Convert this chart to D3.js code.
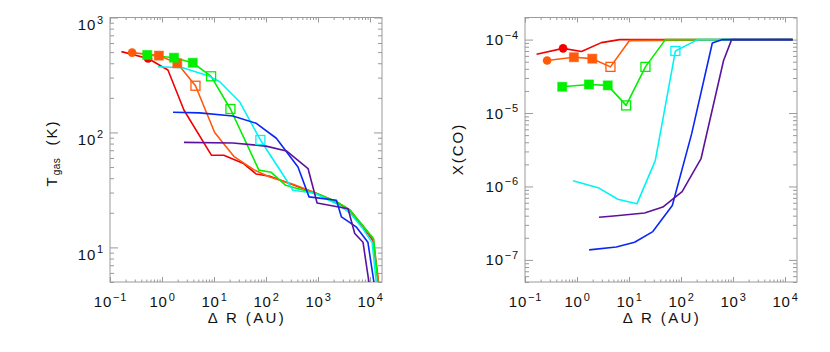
<!DOCTYPE html>
<html lang="en">
<head>
    <meta charset="UTF-8">
    <title>Tgas and X(CO) vs Delta R</title>
    <script src="https://d3js.org/d3.v7.min.js"></script>
    <style>
        body { margin: 0; background-color: white; }
        svg text { font-family: "Liberation Sans", Arial, sans-serif; fill: #111; }
    </style>
</head>
<body>
    <svg id="chart"></svg>

    <script>
        const width = 830;
        const height = 352;

        // decade ticks (value, exponent label)
        const xTicks = [0.1, 1, 10, 100, 1000, 10000];
        const xTickExp = ["\u22121", "0", "1", "2", "3", "4"];
        const tgasTicks = [10, 100, 1000];
        const tgasTickExp = ["1", "2", "3"];
        const xcoTicks = [1e-7, 1e-6, 1e-5, 1e-4];
        const xcoTickExp = ["\u22127", "\u22126", "\u22125", "\u22124"];

        const seriesNames = ["red", "orange", "green", "cyan", "blue", "purple"];

        // left panel: [Delta R (AU), Tgas (K)]
        const tgasRed = [[0.166, 505], [0.54, 440], [1.3, 349], [2.65, 156], [8.9, 63.4], [15.4, 63.4], [36, 54], [65, 43.5],
            [118, 41.6], [330, 35], [930, 29.4], [2260, 24.8], [4070, 21], [7330, 15], [11430, 11.5], [14900, 4.5]];
        const tgasOrange = [[0.266, 495], [0.87, 466], [1.97, 400], [4.4, 255], [10.3, 100], [24, 62], [58, 47.5], [118, 41],
            [330, 35.5], [930, 29.6], [2260, 25], [4070, 21.3], [7330, 15.3], [11600, 11.8], [15000, 4.5]];
        const tgasGreen = [[0.52, 472], [1.7, 447], [3.9, 404], [8.8, 308], [20.7, 160], [73, 47], [126, 45], [239, 34.7],
            [600, 31], [930, 29.5], [2260, 25], [4070, 21.2], [7330, 15.4], [11700, 11.9], [14400, 4.5]];
        const tgasCyan = [[0.84, 373], [2.5, 366], [7.7, 312], [12.9, 276], [31, 185], [78, 86], [170, 50], [331, 31.4],
            [690, 30], [930, 29], [2260, 24], [4070, 20], [7330, 14.5], [11000, 11], [13500, 4.5]];
        const tgasBlue = [[1.63, 150], [5.3, 148], [23, 139], [65, 120], [158, 89], [412, 50], [671, 27.5], [2260, 25.7],
            [2820, 18.4], [5500, 15], [9100, 11.1], [12300, 4.5]];
        const tgasPurple = [[2.65, 82], [23, 81], [65, 77.5], [100, 76], [247, 69], [643, 48.5], [960, 24.3], [3780, 21.7],
            [5080, 13.2], [7330, 11.1], [9860, 4.5]];

        // right panel: [Delta R (AU), X(CO)]
        const xcoRed = [[0.167, 6.3e-5], [0.54, 7.6e-5], [1.22, 6.9e-5], [2.94, 9.1e-5], [6.6, 1e-4], [14000, 1e-4]];
        const xcoOrange = [[0.266, 5.2e-5], [0.87, 5.75e-5], [1.97, 5.5e-5], [4.4, 4.25e-5], [10.2, 9.7e-5], [14000, 1e-4]];
        const xcoGreen = [[0.52, 2.28e-5], [1.7, 2.45e-5], [3.9, 2.38e-5], [8.8, 1.27e-5], [20.7, 4.25e-5], [50, 1e-4], [14000, 1e-4]];
        const xcoCyan = [[0.84, 1.2e-6], [2.65, 9.5e-7], [6.1, 6.7e-7], [14.2, 5.8e-7], [32, 2.25e-6], [78, 7e-5], [209, 1e-4], [14000, 1e-4]];
        const xcoBlue = [[1.71, 1.37e-7], [5.7, 1.5e-7], [12.8, 1.74e-7], [28.7, 2.43e-7], [68, 5.5e-7], [160, 5.2e-6],
            [400, 9e-5], [630, 1e-4], [14000, 1e-4]];
        const xcoPurple = [[2.65, 3.8e-7], [5.7, 4e-7], [19.9, 4.35e-7], [44.7, 5.25e-7], [105, 8.5e-7], [243, 2.4e-6],
            [658, 5.2e-5], [940, 1e-4], [14000, 1e-4]];

        // markers: [series, Delta R, Tgas, X(CO)]
        const circlePts = [["red", 0.54, 440, 7.6e-5], ["orange", 0.266, 495, 5.2e-5]];
        const filledSquarePts = [["orange", 0.87, 466, 5.75e-5], ["orange", 1.97, 400, 5.5e-5],
            ["green", 0.52, 472, 2.28e-5], ["green", 1.7, 447, 2.45e-5], ["green", 3.9, 404, 2.38e-5]];
        const openSquarePts = [["orange", 4.4, 255, 4.25e-5], ["green", 8.8, 308, 1.27e-5],
            ["green", 20.7, 160, 4.25e-5], ["cyan", 78, 86, 7e-5]];

        const colors = {
            red: "#f20000", orange: "#ff5a0a", green: "#00f000",
            cyan: "#00f4f4", blue: "#0a28f5", purple: "#5c129e"
        };

        const svg = d3.select("#chart")
            .attr("width", width)
            .attr("height", height);

        const plotTop = 17.5, plotBottom = 282;

        function minorTicks(lo, hi) {
            const out = [];
            for (let e = Math.floor(Math.log10(lo)); e <= Math.ceil(Math.log10(hi)); e++) {
                for (let k = 2; k <= 9; k++) {
                    const v = k * Math.pow(10, e);
                    if (v >= lo && v <= hi) out.push(v);
                }
            }
            return out;
        }

        function powLabel(sel, exp) {
            sel.append("tspan").text("10");
            sel.append("tspan").attr("font-size", 11).attr("dx", 1).attr("dy", -6.5).text(exp);
        }

        function drawPanel(p) {
            const x = d3.scaleLog().domain([0.1, 1.7e4]).range([p.left, p.left + 272]);
            const y = d3.scaleLog().domain(p.yDomain).range([plotBottom, plotTop]);
            const g = svg.append("g");

            const clipId = "clip-" + p.id;
            svg.append("clipPath").attr("id", clipId)
                .append("rect").attr("x", x.range()[0]).attr("y", plotTop)
                .attr("width", 272).attr("height", plotBottom - plotTop);

            const xMinor = minorTicks(0.1, 1.7e4);
            const yMinor = minorTicks(p.yDomain[0], p.yDomain[1]);

            const axes = [
                [d3.axisBottom(x), `translate(0,${plotBottom})`, xTicks, xMinor, 5, 2.5],
                [d3.axisTop(x), `translate(0,${plotTop})`, xTicks, xMinor, 5, 2.5],
                [d3.axisLeft(y), `translate(${p.left},0)`, p.yTicks, yMinor, 8, 4],
                [d3.axisRight(y), `translate(${p.left + 272},0)`, p.yTicks, yMinor, 8, 4]
            ];
            axes.forEach(([ax, tr, major, minor, big, small]) => {
                [[major, big], [minor, small]].forEach(([vals, len]) => {
                    const a = g.append("g").attr("transform", tr)
                        .call(ax.tickValues(vals).tickSize(-len).tickSizeOuter(0).tickFormat(""));
                    a.select(".domain").remove();
                    a.selectAll("line").attr("stroke", "#9a9a9a");
                });
            });

            g.append("rect")
                .attr("x", x.range()[0]).attr("y", plotTop)
                .attr("width", 272).attr("height", plotBottom - plotTop)
                .attr("fill", "none").attr("stroke", "#9a9a9a").attr("stroke-width", 1);

            // x tick labels
            xTicks.forEach((v, i) => {
                const t = g.append("text").attr("x", x(v) + 0.5).attr("y", 307)
                    .attr("text-anchor", "middle").attr("font-size", 15).attr("letter-spacing", 0.8);
                powLabel(t, xTickExp[i]);
            });
            // y tick labels
            p.yTicks.forEach((v, i) => {
                const t = g.append("text").attr("x", p.left - 6).attr("y", y(v) + p.labelShift)
                    .attr("text-anchor", "end").attr("font-size", 15).attr("letter-spacing", 0.8);
                powLabel(t, p.yTickExp[i]);
            });

            g.append("text").attr("x", p.left + 137).attr("y", 323)
                .attr("text-anchor", "middle").attr("font-size", 15)
                .attr("letter-spacing", 2.4)
                .attr("xml:space", "preserve")
                .text("\u0394 R (AU)");

            const yt = g.append("text")
                .attr("transform", `translate(${p.titleX},${p.titleY}) rotate(-90)`)
                .attr("text-anchor", "middle").attr("font-size", 15).attr("letter-spacing", 2);
            p.title(yt);

            const line = d3.line().x(d => x(d[0])).y(d => y(d[1]));
            const plot = g.append("g").attr("clip-path", `url(#${clipId})`);
            const mk = g.append("g");

            seriesNames.forEach((name, i) => {
                plot.append("path")
                    .datum(p.series[i])
                    .attr("d", line)
                    .attr("fill", "none")
                    .attr("stroke", colors[name])
                    .attr("stroke-width", 1.6)
                    .attr("stroke-linejoin", "round");
            });

            // markers, drawn in series order so later series sit on top
            seriesNames.forEach(name => {
                circlePts.filter(d => d[0] === name).forEach(d => {
                    mk.append("circle").attr("cx", x(d[1])).attr("cy", y(d[p.col]))
                        .attr("r", 4.3).attr("fill", colors[name]);
                });
                filledSquarePts.filter(d => d[0] === name).forEach(d => {
                    mk.append("rect").attr("x", x(d[1]) - 4.5).attr("y", y(d[p.col]) - 4.5)
                        .attr("width", 9).attr("height", 9)
                        .attr("fill", colors[name]).attr("stroke", colors[name]).attr("stroke-opacity", 0.6);
                });
                openSquarePts.filter(d => d[0] === name).forEach(d => {
                    mk.append("rect").attr("x", x(d[1]) - 4.5).attr("y", y(d[p.col]) - 4.5)
                        .attr("width", 9).attr("height", 9)
                        .attr("fill", "none").attr("stroke", colors[name]).attr("stroke-width", 1.3);
                });
            });
        }

        drawPanel({
            id: "tgas", left: 110, yDomain: [5, 1000],
            yTicks: tgasTicks, yTickExp: tgasTickExp, labelShift: 12.5,
            series: [tgasRed, tgasOrange, tgasGreen, tgasCyan, tgasBlue, tgasPurple], col: 2,
            titleX: 57, titleY: 153,
            title: t => {
                t.append("tspan").text("T");
                t.append("tspan").attr("font-size", 10).attr("letter-spacing", 0.4).attr("dy", 3).text("gas");
                t.append("tspan").attr("dy", -3).attr("xml:space", "preserve").text("  (K)");
            }
        });

        drawPanel({
            id: "xco", left: 525, yDomain: [5e-8, 2e-4],
            yTicks: xcoTicks, yTickExp: xcoTickExp, labelShift: 5.5,
            series: [xcoRed, xcoOrange, xcoGreen, xcoCyan, xcoBlue, xcoPurple], col: 3,
            titleX: 463, titleY: 149,
            title: t => t.text("X(CO)")
        });
    </script>
</body>
</html>
